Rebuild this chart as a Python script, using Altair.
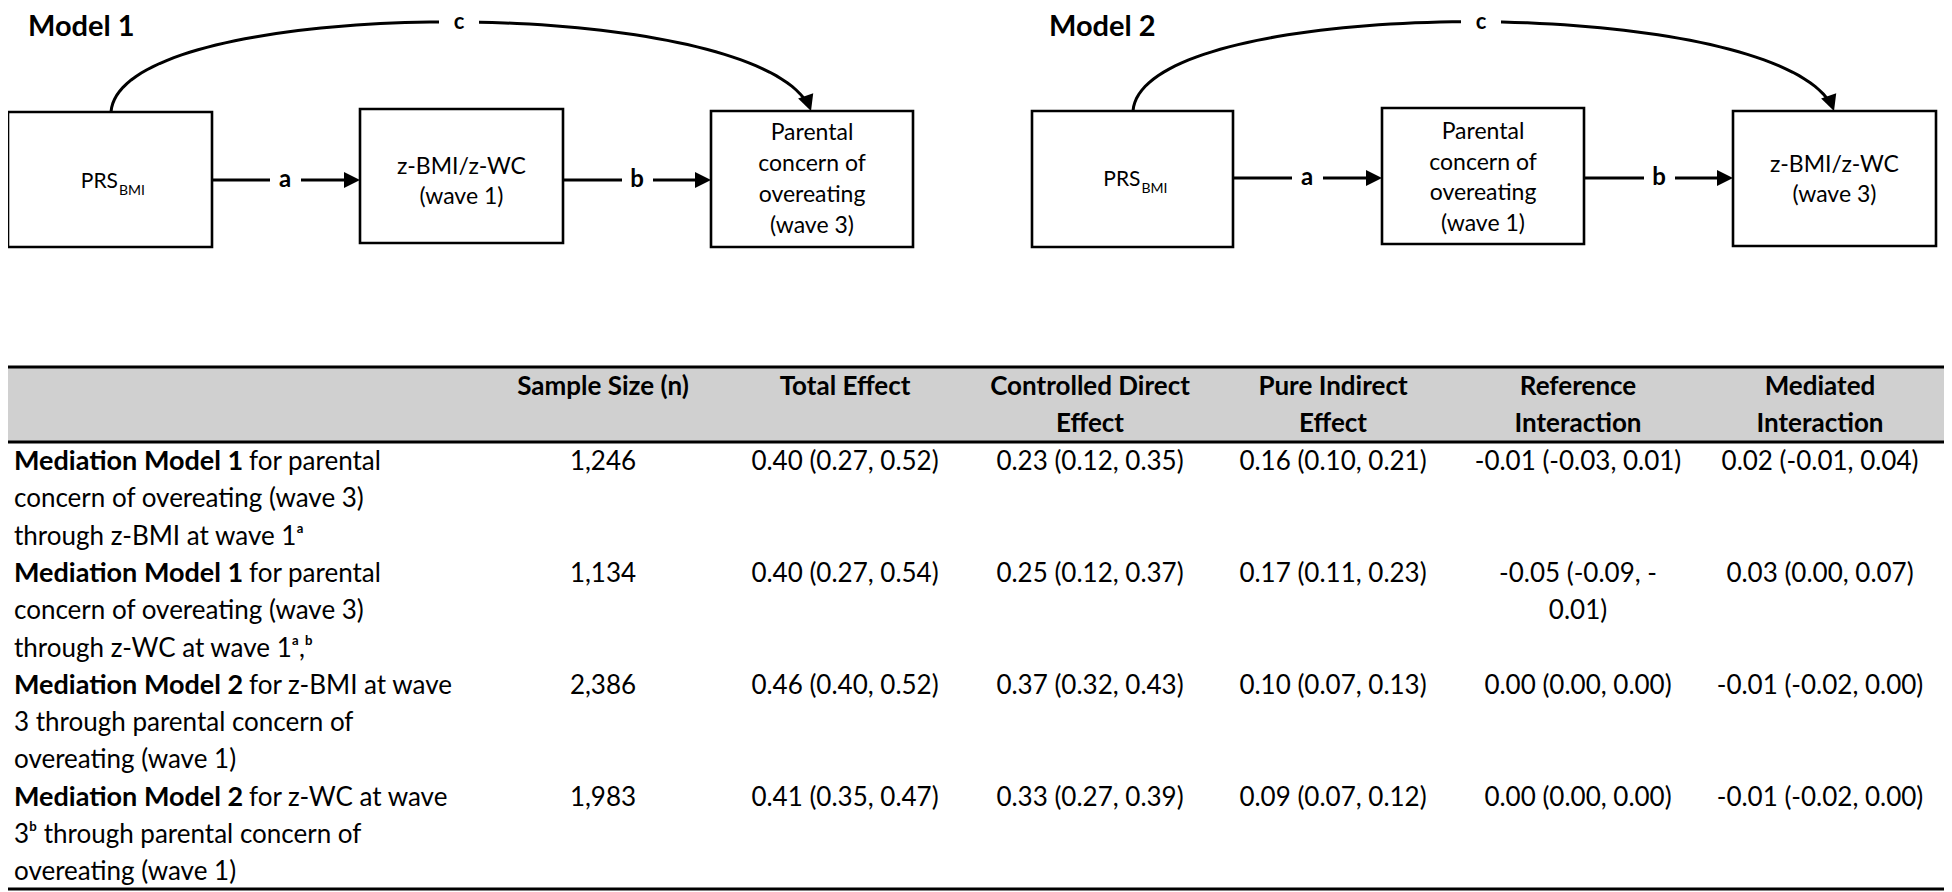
import altair as alt
import pandas as pd
import numpy as np

# ------------------------------------------------------------------ data
model_titles = ["Model 1", "Model 2"]
m1_nodes = [["PRS"], ["z-BMI/z-WC", "(wave 1)"], ["Parental", "concern of", "overeating", "(wave 3)"]]
m2_nodes = [["PRS"], ["Parental", "concern of", "overeating", "(wave 1)"], ["z-BMI/z-WC", "(wave 3)"]]
prs_subscript = "BMI"
path_labels = ["a", "b", "c"]

col_headers = [["Sample Size (n)"], ["Total Effect"], ["Controlled Direct", "Effect"],
               ["Pure Indirect", "Effect"], ["Reference", "Interaction"], ["Mediated", "Interaction"]]
row_bold = ["Mediation Model 1", "Mediation Model 1", "Mediation Model 2", "Mediation Model 2"]
row_lines = [
    ["for parental", "concern of overeating (wave 3)", "through z-BMI at wave 1\u1d43"],
    ["for parental", "concern of overeating (wave 3)", "through z-WC at wave 1\u1d43,\u1d47"],
    ["for z-BMI at wave", "3 through parental concern of", "overeating (wave 1)"],
    ["for z-WC at wave", "3\u1d47 through parental concern of", "overeating (wave 1)"],
]
sample_size = ["1,246", "1,134", "2,386", "1,983"]
total_effect = ["0.40 (0.27, 0.52)", "0.40 (0.27, 0.54)", "0.46 (0.40, 0.52)", "0.41 (0.35, 0.47)"]
controlled_direct = ["0.23 (0.12, 0.35)", "0.25 (0.12, 0.37)", "0.37 (0.32, 0.43)", "0.33 (0.27, 0.39)"]
pure_indirect = ["0.16 (0.10, 0.21)", "0.17 (0.11, 0.23)", "0.10 (0.07, 0.13)", "0.09 (0.07, 0.12)"]
reference_interaction = ["-0.01 (-0.03, 0.01)", "-0.05 (-0.09, -\n0.01)", "0.00 (0.00, 0.00)", "0.00 (0.00, 0.00)"]
mediated_interaction = ["0.02 (-0.01, 0.04)", "0.03 (0.00, 0.07)", "-0.01 (-0.02, 0.00)", "-0.01 (-0.02, 0.00)"]

# ------------------------------------------------------------------ layout (page pixel coordinates)
FONT = "Lato"
W, H = 1936, 884
X0, Y0 = 8, 8
title_x = [28, 1049]
title_y = 27
boxes = [  # x1, x2, y1, y2
    [(8, 212, 112, 247), (360, 563, 109, 243), (711, 913, 111, 247)],
    [(1032, 1233, 111, 247), (1382, 1584, 108, 244), (1733, 1936, 111, 246)],
]
node_line_y = [
    [[182], [167, 197], [133, 164, 195, 226]],
    [[180], [132, 163, 193, 224], [165, 195]],
]
arrow_y = [180, 178]
label_x = [[285, 637], [1307, 1659]]
curve_ends = [((111, 112), (811, 111)), ((1133, 111), (1834, 111))]
c_label_x = [459, 1481]
c_label_y = 22

table_left, table_right = 0, 1946
rule_y = [367, 442, 889]
col_x = [603, 845, 1090, 1333, 1578, 1820]
header_y = [387, 424]
row_y0, line_gap = 462, 37.3
label_x0, rest_x0 = 14, 249

# ------------------------------------------------------------------ scales
xs = alt.Scale(domain=[X0, X0 + W], nice=False, zero=False)
ys = alt.Scale(domain=[Y0, Y0 + H], nice=False, zero=False, reverse=True)


def X(f):
    return alt.X(f, type="quantitative", scale=xs, axis=None)


def Y(f):
    return alt.Y(f, type="quantitative", scale=ys, axis=None)


def texts(rows, size, weight="normal", align="center", baseline="middle"):
    df = pd.DataFrame(rows, columns=["x", "y", "t"])
    return alt.Chart(df).mark_text(font=FONT, fontSize=size, fontWeight=weight, align=align,
                                   baseline=baseline, color="black").encode(
        x=X("x"), y=Y("y"), text=alt.Text("t:N"))


layers = []

# ---- table background and rules
layers.append(alt.Chart(pd.DataFrame({"x": [table_left], "x2": [table_right],
                                      "y": [rule_y[0]], "y2": [rule_y[1]]}))
              .mark_rect(color="#d0d0d0").encode(x=X("x"), x2="x2", y=Y("y"), y2="y2"))
layers.append(alt.Chart(pd.DataFrame({"x": [table_left] * 3, "x2": [table_right] * 3, "y": rule_y}))
              .mark_rule(color="black", strokeWidth=3).encode(x=X("x"), x2="x2", y=Y("y")))

# ---- diagram: straight arrows
seg = []
for m in range(2):
    b = boxes[m]
    seg.append((b[0][1], b[1][0] - 8, arrow_y[m]))
    seg.append((b[1][1], b[2][0] - 8, arrow_y[m]))
layers.append(alt.Chart(pd.DataFrame(seg, columns=["x", "x2", "y"]))
              .mark_rule(color="black", strokeWidth=3).encode(x=X("x"), x2="x2", y=Y("y")))

# ---- diagram: curved c paths (cubic Bezier connector)
crow = []
heads = []
for m in range(2):
    (sx, sy), (ex, ey) = curve_ends[m]
    p0 = np.array([sx, sy]); p3 = np.array([ex, ey])
    p1 = np.array([sx + 9, -8]); p2 = np.array([ex - 42, -8])
    t = np.linspace(0, 0.975, 80)
    pts = ((1 - t) ** 3)[:, None] * p0 + (3 * (1 - t) ** 2 * t)[:, None] * p1 + \
          (3 * (1 - t) * t ** 2)[:, None] * p2 + (t ** 3)[:, None] * p3
    for i, (px, py) in enumerate(pts):
        crow.append((m, i, px, py))
    d = p3 - p2
    heads.append((ex, ey, float(np.degrees(np.arctan2(d[1], d[0])))))
    b = boxes[m]
    heads.append((b[1][0], arrow_y[m], 0.0))
    heads.append((b[2][0], arrow_y[m], 0.0))
layers.append(alt.Chart(pd.DataFrame(crow, columns=["m", "o", "x", "y"]))
              .mark_line(color="black", strokeWidth=3, strokeCap="butt")
              .encode(x=X("x"), y=Y("y"), detail="m:N", order="o:Q"))

# ---- diagram boxes
brow = [bx for mb in boxes for bx in mb]
layers.append(alt.Chart(pd.DataFrame(brow, columns=["x", "x2", "y", "y2"]))
              .mark_rect(filled=False, color="black", strokeWidth=2.6)
              .encode(x=X("x"), x2="x2", y=Y("y"), y2="y2"))

# ---- arrowheads
layers.append(alt.Chart(pd.DataFrame(heads, columns=["x", "y", "ang"]))
              .mark_point(shape="M0,0L-2,-1L-2,1Z", size=256, filled=True, color="black",
                          opacity=1, strokeWidth=0)
              .encode(x=X("x"), y=Y("y"), angle=alt.Angle("ang:Q", scale=None)))

# ---- white gaps behind path labels
gaps = []
lab = []
for m in range(2):
    for j in range(2):
        gaps.append((label_x[m][j] - 15, label_x[m][j] + 16, arrow_y[m] - 13, arrow_y[m] + 13))
        lab.append((label_x[m][j], arrow_y[m], path_labels[j]))
    gaps.append((c_label_x[m] - 20, c_label_x[m] + 20, c_label_y - 12, c_label_y + 12))
layers.append(alt.Chart(pd.DataFrame(gaps, columns=["x", "x2", "y", "y2"]))
              .mark_rect(color="white").encode(x=X("x"), x2="x2", y=Y("y"), y2="y2"))
layers.append(texts(lab, 24, "bold"))
layers.append(texts([(c_label_x[m], c_label_y, path_labels[2]) for m in range(2)], 22, "bold"))

# ---- titles
layers.append(texts([(title_x[m], title_y, model_titles[m]) for m in range(2)], 29, "bold", "left"))

# ---- node texts
node_rows = []
prs_rows = []
sub_rows = []
for m, nodes in enumerate([m1_nodes, m2_nodes]):
    for n, lines in enumerate(nodes):
        x1, x2, _, _ = boxes[m][n]
        cx = (x1 + x2) / 2
        if lines == ["PRS"]:
            prs_rows.append((cx + 8, node_line_y[m][n][0], lines[0]))
            sub_rows.append((cx + 9, node_line_y[m][n][0] + 9, prs_subscript))
        else:
            for k, s in enumerate(lines):
                node_rows.append((cx, node_line_y[m][n][k], s))
layers.append(texts(node_rows, 23))
layers.append(texts(prs_rows, 21, align="right"))
layers.append(texts(sub_rows, 14, align="left"))

# ---- table header
hrows = []
for i, hl in enumerate(col_headers):
    for j, s in enumerate(hl):
        hrows.append((col_x[i], header_y[j], s))
layers.append(texts(hrows, 26, "bold"))

# ---- table body
vrows = []
cols = [sample_size, total_effect, controlled_direct, pure_indirect, reference_interaction, mediated_interaction]
brows = []
rrows = []
for k in range(4):
    y0 = row_y0 + 3 * k * line_gap
    for i, col in enumerate(cols):
        for j, s in enumerate(col[k].split("\n")):
            vrows.append((col_x[i], y0 + j * line_gap, s))
    brows.append((label_x0, y0, row_bold[k]))
    rrows.append((rest_x0, y0, row_lines[k][0]))
    for j in (1, 2):
        rrows.append((label_x0, y0 + j * line_gap, row_lines[k][j]))
layers.append(texts(vrows, 26))
layers.append(texts(brows, 27, "bold", "left"))
layers.append(texts(rrows, 26, align="left"))

chart = alt.layer(*layers).properties(
    width=W, height=H, padding=0, autosize=alt.AutoSizeParams(type="none")
).configure_view(stroke=None)

chart.save("out.html", embed_options={"renderer": "svg", "actions": False})
